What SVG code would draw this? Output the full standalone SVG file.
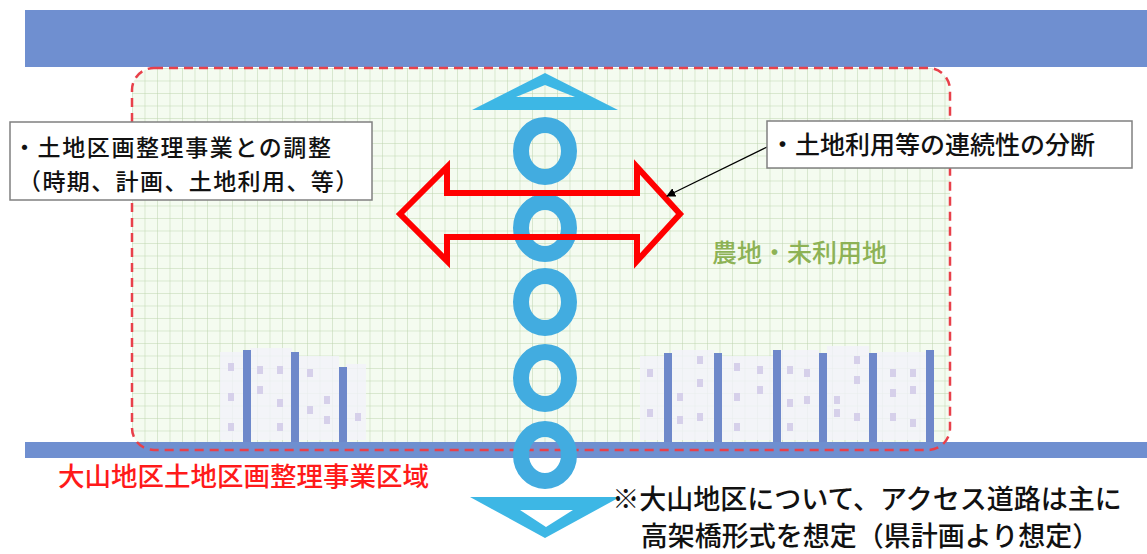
<svg xmlns="http://www.w3.org/2000/svg" width="1147" height="554" viewBox="0 0 1147 554">
<style>
  .jp { font-family: "Noto Sans CJK JP", "Noto Sans", sans-serif; font-weight: 500; }
  .box { fill: #ffffff; stroke: #808080; stroke-width: 1.5; }
  .band { fill: #6F8FD0; }
  .bar { fill: #6E88CA; }
  .bld { fill: #F3F2FA; opacity: 0.8; }
  .win { fill: #D6D0EA; }
  .ring { fill: none; stroke: #42ACE0; stroke-width: 16; }
  .tri { fill: #3DB7E5; fill-rule: evenodd; }
</style>
<defs>
  <pattern id="grid" patternUnits="userSpaceOnUse" x="132" y="68" width="12.5" height="12.5">
    <path d="M12.5 0 L0 0 L0 12.5" fill="none" stroke="#BDD5AE" stroke-width="1"/>
  </pattern>
  <marker id="ah" viewBox="0 0 10 10" refX="9" refY="5" markerWidth="7" markerHeight="7" orient="auto">
    <path d="M0 0 L10 5 L0 10 Z" fill="#000"/>
  </marker>
</defs>
<rect width="1147" height="554" fill="#ffffff"/>

<g id="area">
  <rect x="132" y="68" width="818" height="382" rx="22" fill="#F4FBF0"/>
  <rect x="132" y="68" width="818" height="382" rx="22" fill="url(#grid)"/>
</g>

<g id="buildings-left">
  <rect class="bld" x="220" y="352" width="26" height="88"/>
  <rect class="bld" x="250" y="348" width="42" height="92"/>
  <rect class="bld" x="299" y="356" width="40" height="84"/>
  <rect class="bld" x="346" y="364" width="20" height="76"/>
  <rect class="win" x="228" y="363" width="6" height="8"/>
  <rect class="win" x="228" y="393" width="6" height="8"/>
  <rect class="win" x="228" y="423" width="6" height="8"/>
  <rect class="win" x="257" y="366" width="6" height="8"/>
  <rect class="win" x="257" y="386" width="6" height="8"/>
  <rect class="win" x="277" y="366" width="6" height="8"/>
  <rect class="win" x="277" y="399" width="6" height="8"/>
  <rect class="win" x="277" y="423" width="6" height="8"/>
  <rect class="win" x="307" y="369" width="6" height="8"/>
  <rect class="win" x="307" y="406" width="6" height="8"/>
  <rect class="win" x="324" y="396" width="6" height="8"/>
  <rect class="win" x="324" y="416" width="6" height="8"/>
  <rect class="win" x="355" y="413" width="6" height="8"/>
  <rect class="bar" x="243" y="350" width="8" height="92"/>
  <rect class="bar" x="291" y="352" width="8" height="90"/>
  <rect class="bar" x="339" y="367" width="8" height="75"/>
</g>

<g id="buildings-right">
  <rect class="bld" x="640" y="356" width="26" height="84"/>
  <rect class="bld" x="672" y="350" width="42" height="90"/>
  <rect class="bld" x="722" y="356" width="51" height="84"/>
  <rect class="bld" x="781" y="350" width="38" height="90"/>
  <rect class="bld" x="827" y="346" width="42" height="94"/>
  <rect class="bld" x="877" y="352" width="49" height="88"/>
  <rect class="win" x="647" y="369" width="6" height="8"/>
  <rect class="win" x="647" y="409" width="6" height="8"/>
  <rect class="win" x="677" y="393" width="6" height="8"/>
  <rect class="win" x="677" y="416" width="6" height="8"/>
  <rect class="win" x="697" y="356" width="6" height="8"/>
  <rect class="win" x="697" y="379" width="6" height="8"/>
  <rect class="win" x="697" y="413" width="6" height="8"/>
  <rect class="win" x="734" y="363" width="6" height="8"/>
  <rect class="win" x="734" y="393" width="6" height="8"/>
  <rect class="win" x="734" y="423" width="6" height="8"/>
  <rect class="win" x="757" y="366" width="6" height="8"/>
  <rect class="win" x="757" y="386" width="6" height="8"/>
  <rect class="win" x="787" y="366" width="6" height="8"/>
  <rect class="win" x="787" y="399" width="6" height="8"/>
  <rect class="win" x="787" y="423" width="6" height="8"/>
  <rect class="win" x="804" y="369" width="6" height="8"/>
  <rect class="win" x="804" y="396" width="6" height="8"/>
  <rect class="win" x="834" y="396" width="6" height="8"/>
  <rect class="win" x="834" y="409" width="6" height="8"/>
  <rect class="win" x="854" y="356" width="6" height="8"/>
  <rect class="win" x="854" y="376" width="6" height="8"/>
  <rect class="win" x="854" y="413" width="6" height="8"/>
  <rect class="win" x="890" y="369" width="6" height="8"/>
  <rect class="win" x="890" y="389" width="6" height="8"/>
  <rect class="win" x="890" y="413" width="6" height="8"/>
  <rect class="win" x="910" y="369" width="6" height="8"/>
  <rect class="win" x="910" y="386" width="6" height="8"/>
  <rect class="win" x="910" y="419" width="6" height="8"/>
  <rect class="bar" x="664" y="353" width="8" height="89"/>
  <rect class="bar" x="714" y="353" width="8" height="89"/>
  <rect class="bar" x="773" y="350" width="8" height="92"/>
  <rect class="bar" x="819" y="353" width="8" height="89"/>
  <rect class="bar" x="869" y="353" width="8" height="89"/>
  <rect class="bar" x="926" y="350" width="8" height="92"/>
</g>

<g id="roads">
  <rect class="band" x="25" y="10" width="1122" height="57"/>
  <rect class="band" x="25" y="442" width="1122" height="16"/>
</g>

<g id="boundary">
  <rect x="132" y="68" width="818" height="382" rx="22" fill="none" stroke="#E8404A" stroke-width="2.5" stroke-dasharray="9 6"/>
</g>

<g id="access-road">
  <path class="tri" d="M545 73 L618 110 L472 110 Z M545 85 L575 97 L516 97 Z"/>
  <ellipse class="ring" cx="545" cy="151" rx="24" ry="26"/>
  <ellipse class="ring" cx="545" cy="228" rx="24" ry="26"/>
  <ellipse class="ring" cx="545" cy="302" rx="24" ry="26"/>
  <ellipse class="ring" cx="545" cy="378" rx="24" ry="26"/>
  <ellipse class="ring" cx="545" cy="455" rx="24" ry="26"/>
  <path class="tri" d="M470 497 L620 497 L545 538 Z M520 510 L573 510 L546 527 Z"/>
</g>

<g id="division-arrow">
  <path d="M400 214 L447 167 L447 193 L637 193 L637 167 L680 214 L637 261 L637 237 L447 237 L447 261 Z" fill="none" stroke="#FF0000" stroke-width="6" stroke-linejoin="miter"/>
</g>

<g id="connectors">
  <line x1="767" y1="147" x2="667" y2="196" stroke="#000" stroke-width="1.3" marker-end="url(#ah)"/>
</g>

<g id="note-left">
  <rect class="box" x="10" y="122" width="362" height="78"/>
  <text class="jp" x="13" y="156" font-size="23" letter-spacing="1.6" fill="#111">・土地区画整理事業との調整</text>
  <text class="jp" x="18" y="190" font-size="23" letter-spacing="1.4" fill="#111">（時期、計画、土地利用、等）</text>
</g>

<g id="note-right">
  <rect class="box" x="767" y="121" width="365" height="47"/>
  <text class="jp" x="770" y="154" font-size="25" fill="#111">・土地利用等の連続性の分断</text>
</g>

<g id="label-farmland">
  <text class="jp" x="712" y="262" font-size="25" fill="#8DB255">農地・未利用地</text>
</g>

<g id="label-district">
  <text class="jp" x="58" y="486" font-size="26.5" fill="#FF1A1A">大山地区土地区画整理事業区域</text>
</g>

<g id="note-bottom">
  <text class="jp" font-size="27" fill="#111" text-anchor="middle">
    <tspan x="870" y="509">※大山地区について、アクセス道路は主に</tspan>
    <tspan x="870" y="546">高架橋形式を想定（県計画より想定）</tspan>
  </text>
</g>
</svg>
